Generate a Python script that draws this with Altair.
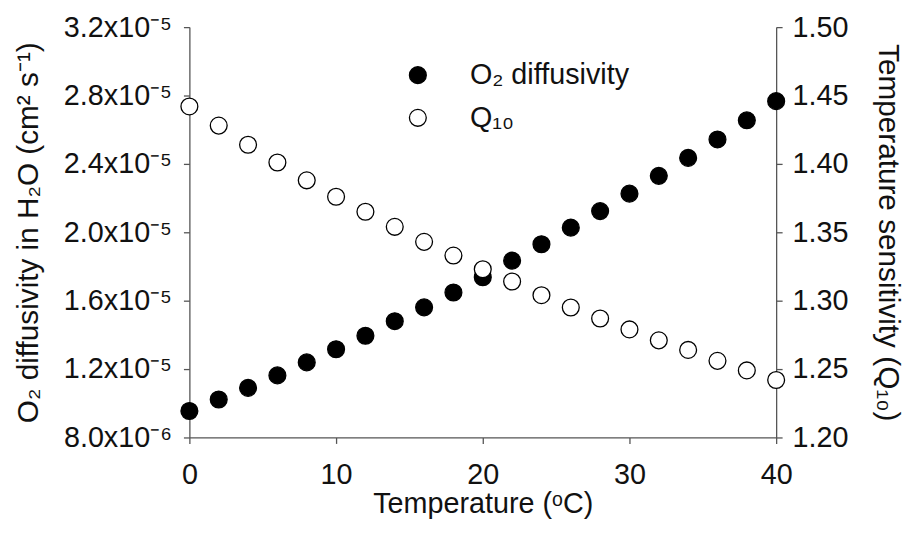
import altair as alt
import pandas as pd

temperature = [0, 2, 4, 6, 8, 10, 12, 14, 16, 18, 20, 22, 24, 26, 28, 30, 32, 34, 36, 38, 40]
o2_diffusivity = [9.55e-6, 1.022e-5, 1.090e-5, 1.163e-5, 1.239e-5, 1.316e-5, 1.395e-5, 1.480e-5,
                  1.561e-5, 1.648e-5, 1.737e-5, 1.834e-5, 1.930e-5, 2.027e-5, 2.124e-5, 2.226e-5,
                  2.330e-5, 2.435e-5, 2.543e-5, 2.655e-5, 2.767e-5]
q10 = [1.442, 1.428, 1.414, 1.401, 1.388, 1.376, 1.365, 1.354, 1.343, 1.333, 1.323,
       1.314, 1.304, 1.295, 1.287, 1.279, 1.271, 1.264, 1.256, 1.249, 1.242]
series_names = ["O\u2082 diffusivity", "Q\u2081\u2080"]
left_ticks = [8e-6, 1.2e-5, 1.6e-5, 2.0e-5, 2.4e-5, 2.8e-5, 3.2e-5]
right_ticks = [1.20, 1.25, 1.30, 1.35, 1.40, 1.45, 1.50]
x_ticks = [0, 10, 20, 30, 40]

df_d = pd.DataFrame({"T": temperature, "v": o2_diffusivity, "series": series_names[0]})
df_q = pd.DataFrame({"T": temperature, "v": q10, "series": series_names[1]})

FONT = "Liberation Sans"
AX = "#555555"
fill_scale = alt.Scale(domain=series_names, range=["black", "white"])

xenc = alt.X("T:Q", scale=alt.Scale(domain=[0, 40], nice=False),
             axis=alt.Axis(values=x_ticks, title="Temperature (\u1d52C)", format="d",
                           labelFlush=False, labelPadding=17, titlePadding=1,
                           titleFontSize=29))

base_mark = dict(size=289, stroke="black", strokeWidth=1.3, opacity=1)

left = alt.Chart(df_d).mark_circle(**base_mark).encode(
    x=xenc,
    y=alt.Y("v:Q", scale=alt.Scale(domain=[8e-6, 3.2e-5], nice=False, zero=False),
            axis=alt.Axis(orient="left", values=left_ticks,
                          title="O\u2082 diffusivity in H\u2082O (cm\u00b2 s\u207b\u00b9)",
                          labelExpr="datum.value < 1e-5 ? format(datum.value*1e6, '.1f') + 'x10\u207b\u2076' : format(datum.value*1e5, '.1f') + 'x10\u207b\u2075'",
                          labelFlush=False, labelPadding=12, titlePadding=20)),
    fill=alt.Fill("series:N", scale=fill_scale,
                  legend=alt.Legend(title=None, orient="none", legendX=216, legendY=34,
                                    symbolType="circle", symbolSize=289,
                                    symbolStrokeColor="black", symbolStrokeWidth=1.3,
                                    labelFontSize=29, labelFont=FONT, labelColor="#111111",
                                    labelLimit=0, labelOffset=38, rowPadding=13, padding=0)),
)

right = alt.Chart(df_q).mark_circle(**base_mark).encode(
    x=xenc,
    y=alt.Y("v:Q", scale=alt.Scale(domain=[1.2, 1.5], nice=False, zero=False),
            axis=alt.Axis(orient="right", values=right_ticks, format=".2f",
                          title="Temperature sensitivity (Q\u2081\u2080)",
                          labelFlush=False, labelPadding=10, titlePadding=25)),
    fill=alt.Fill("series:N", scale=fill_scale),
)

chart = alt.layer(left, right).resolve_scale(y="independent").properties(
    width=592, height=414,
    autosize=alt.AutoSizeParams(type="none"),
    padding={"left": 183, "top": 17, "right": 131, "bottom": 83},
).configure_view(strokeWidth=0).configure_axis(
    grid=False, domainColor=AX, domainWidth=1.3, tickColor=AX, tickWidth=1.3, tickSize=6,
    labelFont=FONT, labelFontSize=29, labelColor="#111111",
    titleFont=FONT, titleFontSize=30, titleFontWeight="normal", titleColor="#111111",
)

chart.save("out.html", embed_options={"renderer": "svg", "actions": False})
